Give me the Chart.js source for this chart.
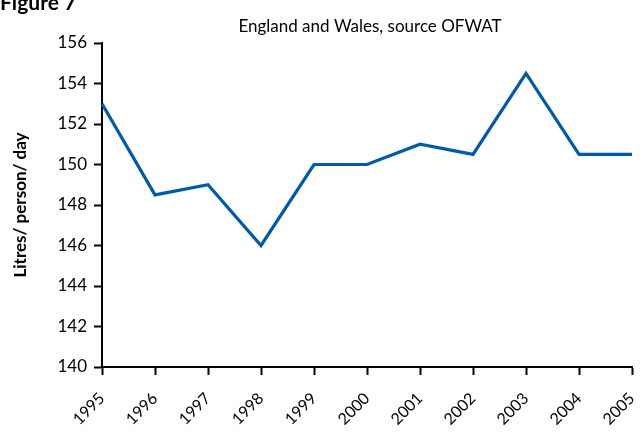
<!DOCTYPE html>
<html>
<head>
<meta charset="utf-8">
<script src="https://cdn.jsdelivr.net/npm/chart.js@4"></script>
<style>
  html, body { margin: 0; padding: 0; background: #fff; }
  #wrap { width: 643px; height: 434px; position: relative; }
</style>
</head>
<body>
<div id="wrap"><canvas id="fig7"></canvas></div>
<script>
const years = ["1995", "1996", "1997", "1998", "1999", "2000", "2001", "2002", "2003", "2004", "2005"];
const litresPerDay = [153, 148.5, 149, 146, 150, 150, 151, 150.5, 154.5, 150.5, 150.5];
const yMin = 140;
const yMax = 156;
const yStep = 2;

const titleText = "Figure 7";
const subtitleText = "England and Wales, source OFWAT";

const headings = {
    id: "headings",
    afterDraw(chart) {
        const ctx = chart.ctx;
        ctx.save();
        ctx.fillStyle = "#000";
        ctx.textBaseline = "alphabetic";
        ctx.font = "bold 21px Lato";
        ctx.textAlign = "left";
        ctx.fillText(titleText, 0, 10);
        ctx.font = "17px Lato";
        ctx.textAlign = "center";
        ctx.fillText(subtitleText, 370, 32);
        ctx.restore();
    },
};

new Chart(document.querySelector("#fig7"), {
    type: "line",
    data: {
        labels: years,
        datasets: [
            {
                label: "Litres/ person/ day",
                data: litresPerDay,
                borderColor: "#005aaa",
                borderWidth: 3.2,
                pointRadius: 0,
                tension: 0,
                fill: false,
            },
        ],
    },
    options: {
        responsive: true,
        maintainAspectRatio: false,
        animation: false,
        layout: { padding: { left: 0, top: 43, right: 11, bottom: 0 } },
        plugins: {
            legend: { display: false },
            tooltip: { enabled: false },
        },
        scales: {
            x: {
                offset: false,
                grid: {
                    display: true,
                    drawOnChartArea: false,
                    drawTicks: true,
                    tickLength: 8,
                    tickWidth: 2,
                    color: "#000",
                },
                border: { color: "#000", width: 2 },
                ticks: {
                    color: "#000",
                    font: { family: "Lato", size: 16 },
                    minRotation: 45,
                    maxRotation: 45,
                    padding: 14,
                    autoSkip: false,
                },
                afterFit: (scale) => {
                    scale.height = 67;
                    scale.paddingLeft = 0;
                    scale.paddingRight = 0;
                },
            },
            y: {
                min: yMin,
                max: yMax,
                grid: {
                    display: true,
                    drawOnChartArea: false,
                    drawTicks: true,
                    tickLength: 8,
                    tickWidth: 2,
                    color: "#000",
                },
                border: { color: "#000", width: 2 },
                ticks: {
                    stepSize: yStep,
                    color: "#000",
                    font: { family: "Lato", size: 17 },
                    padding: 7,
                },
                title: {
                    display: true,
                    text: "Litres/ person/ day",
                    color: "#000",
                    font: { family: "Lato", size: 17, weight: "bold" },
                    padding: { top: 10, bottom: 0 },
                },
                afterFit: (scale) => {
                    scale.width = 102;
                    scale.paddingTop = 0;
                    scale.paddingBottom = 0;
                },
            },
        },
    },
    plugins: [headings],
});
</script>
</body>
</html>
